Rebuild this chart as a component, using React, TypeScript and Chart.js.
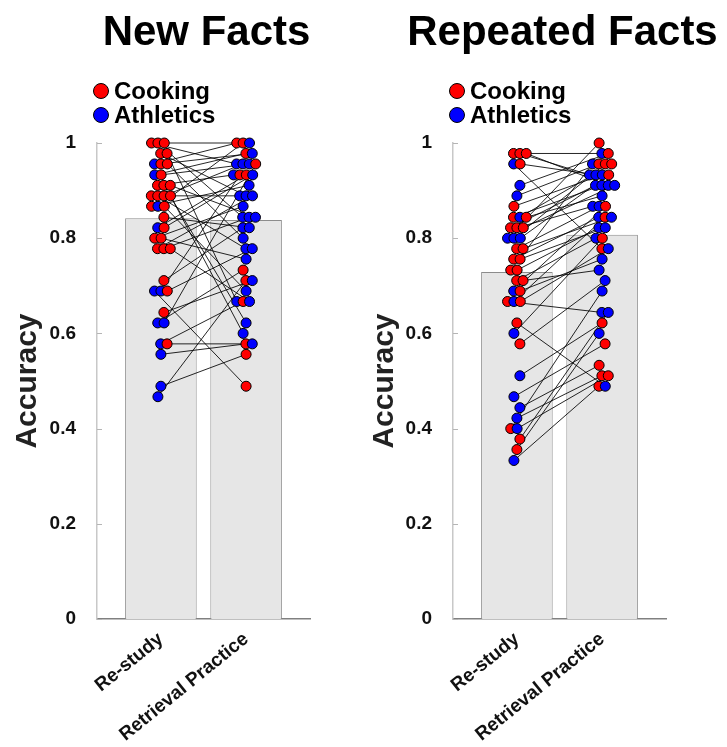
import React, { useEffect, useRef } from "react";
import { Chart, registerables } from "chart.js";

Chart.register(...registerables);

const FONT = "'Liberation Sans', Arial, Helvetica, sans-serif";

const conditionLabels = ["Re-study", "Retrieval Practice"];
const topicLabels = ["Cooking", "Athletics"];
const panelTitles = ["New Facts", "Repeated Facts"];
const yTickValues = [0, 0.2, 0.4, 0.6, 0.8, 1];
const yTickLabels = ["0", "0.2", "0.4", "0.6", "0.8", "1"];

// ---- New Facts (one entry per participant) ----
const newFactsBarMeans = [0.842, 0.838];
const newFactsRestudy = [
  1.0, 0.956, 0.889, 0.978, 0.689, 0.911, 0.8, 0.622, 1.0, 0.867,
  0.933, 0.778, 0.956, 0.489, 0.889, 0.711, 0.867, 0.911, 0.978, 0.578,
  0.844, 0.889, 0.689, 1.0, 0.778, 0.822, 0.933, 0.8, 0.622, 0.889,
  0.956, 0.556, 0.867, 0.911, 0.467, 0.822, 0.778, 0.689, 0.644, 0.578,
];
const newFactsRetrieval = [
  0.956, 1.0, 0.889, 0.889, 0.489, 0.933, 0.867, 0.733, 0.844, 0.911,
  0.978, 0.889, 0.978, 0.556, 0.778, 0.822, 1.0, 0.622, 0.667, 0.667,
  0.822, 0.956, 0.933, 1.0, 0.844, 0.933, 0.956, 0.756, 0.956, 0.6,
  0.8, 0.578, 0.689, 0.844, 0.711, 0.933, 0.667, 0.778, 0.711, 0.578,
];
// topic studied in the Re-study condition (C = Cooking, A = Athletics); the other topic was practised
const newFactsRestudyTopic = [
  "C", "A", "C", "C", "A", "C", "C", "A", "C", "C",
  "A", "C", "C", "A", "C", "C", "A", "C", "C", "A",
  "C", "C", "A", "C", "C", "A", "C", "C", "A", "C",
  "C", "A", "C", "C", "A", "C", "C", "C", "C", "C",
];

// ---- Repeated Facts ----
const repeatedFactsBarMeans = [0.729, 0.807];
const repeatedFactsRestudy = [
  0.978, 0.956, 0.822, 0.8, 0.733, 0.333, 0.978, 0.911, 0.756, 0.4,
  0.467, 0.844, 0.667, 0.889, 0.711, 0.6, 0.978, 0.378, 0.422, 0.822,
  0.8, 0.778, 0.622, 0.689, 0.956, 0.444, 0.733, 0.844, 0.356, 0.667,
  0.867, 0.511, 0.711, 0.8, 0.844, 0.4, 0.689, 0.822, 0.778, 0.756,
  0.667, 0.578,
];
const repeatedFactsRetrieval = [
  0.978, 0.778, 0.911, 1.0, 0.956, 0.489, 0.933, 0.978, 0.844, 0.689,
  0.578, 0.911, 0.644, 0.956, 0.8, 0.8, 0.911, 0.644, 0.511, 0.867,
  0.956, 0.867, 0.489, 0.867, 0.933, 0.533, 0.822, 0.956, 0.6, 0.844,
  0.933, 0.622, 0.733, 0.933, 0.889, 0.511, 0.756, 0.911, 0.844, 0.822,
  0.778, 0.711,
];
const repeatedFactsRestudyTopic = [
  "C", "A", "C", "A", "C", "A", "C", "A", "C", "C",
  "A", "C", "C", "A", "C", "A", "C", "C", "A", "C",
  "A", "C", "C", "A", "C", "A", "C", "A", "C", "A",
  "C", "A", "C", "A", "C", "A", "C", "C", "C", "C",
  "C", "C",
];

const RED = "#ff0000";
const BLUE = "#0000ff";

type PanelData = {
  title: string;
  means: number[];
  restudy: number[];
  retrieval: number[];
  restudyTopic: string[];
};

const panels: PanelData[] = [
  {
    title: panelTitles[0],
    means: newFactsBarMeans,
    restudy: newFactsRestudy,
    retrieval: newFactsRetrieval,
    restudyTopic: newFactsRestudyTopic,
  },
  {
    title: panelTitles[1],
    means: repeatedFactsBarMeans,
    restudy: repeatedFactsRestudy,
    retrieval: repeatedFactsRetrieval,
    restudyTopic: repeatedFactsRestudyTopic,
  },
];

// horizontal spread of dots sharing the same score (layout only)
function columnOffsets(values: number[]): number[] {
  const groups = new Map<number, number[]>();
  values.forEach((v, i) => {
    const key = Math.round(v * 45);
    if (!groups.has(key)) groups.set(key, []);
    groups.get(key)!.push(i);
  });
  const out = new Array(values.length).fill(0);
  groups.forEach((idxs, key) => {
    const n = idxs.length;
    const shift = ((key % 3) - 1) * 0.035;
    idxs.forEach((idx, k) => {
      out[idx] = shift + (k - (n - 1) / 2) * 0.075;
    });
  });
  return out;
}

const decorPlugin = {
  id: "decor",
  beforeDatasetsDraw(chart: any) {
    const { ctx, chartArea, scales } = chart;
    ctx.save();
    ctx.strokeStyle = "#b5b5b5";
    ctx.lineWidth = 1;
    yTickValues.forEach((v) => {
      const y = Math.round(scales.y.getPixelForValue(v)) + 0.5;
      ctx.beginPath();
      ctx.moveTo(chartArea.left, y);
      ctx.lineTo(chartArea.left + 5, y);
      ctx.stroke();
    });
    ctx.restore();
  },
  afterDraw(chart: any, _args: any, opts: any) {
    const { ctx, chartArea } = chart;
    ctx.save();
    ctx.fillStyle = "#000";
    ctx.textAlign = "center";
    ctx.textBaseline = "alphabetic";
    ctx.font = `bold 42px ${FONT}`;
    ctx.fillText(opts.title, (chartArea.left + chartArea.right) / 2 + 3, 45);

    const lx = chartArea.left + 4;
    const entries = [
      { label: topicLabels[0], color: RED, cy: 91, base: 99 },
      { label: topicLabels[1], color: BLUE, cy: 115, base: 123 },
    ];
    ctx.font = `bold 24px ${FONT}`;
    ctx.textAlign = "left";
    entries.forEach((e) => {
      ctx.beginPath();
      ctx.arc(lx, e.cy, 7.5, 0, Math.PI * 2);
      ctx.fillStyle = e.color;
      ctx.fill();
      ctx.lineWidth = 1;
      ctx.strokeStyle = "#000";
      ctx.stroke();
      ctx.fillStyle = "#000";
      ctx.fillText(e.label, lx + 13, e.base);
    });
    ctx.restore();
  },
};

function Panel({
  data,
  left,
  width,
  axisWidth,
  rightPad,
  yTitlePad,
}: {
  data: PanelData;
  left: number;
  width: number;
  axisWidth: number;
  rightPad: number;
  yTitlePad: number;
}) {
  const ref = useRef<HTMLCanvasElement>(null);

  useEffect(() => {
    if (!ref.current) return;
    const rsOff = columnOffsets(data.restudy);
    const rpOff = columnOffsets(data.retrieval);

    const linePts: any[] = [];
    const dotPts: any[] = [];
    const dotColors: string[] = [];
    data.restudy.forEach((v, i) => {
      const x1 = 1 + rsOff[i];
      const x2 = 2 + rpOff[i];
      const r = data.retrieval[i];
      linePts.push({ x: x1, y: v }, { x: x2, y: r }, { x: x2, y: null });
      const rsColor = data.restudyTopic[i] === "C" ? RED : BLUE;
      const rpColor = data.restudyTopic[i] === "C" ? BLUE : RED;
      dotPts.push({ x: x1, y: v }, { x: x2, y: r });
      dotColors.push(rsColor, rpColor);
    });

    const chart = new Chart(ref.current, {
      type: "bar",
      data: {
        datasets: [
          {
            type: "scatter",
            data: dotPts,
            backgroundColor: dotColors,
            borderColor: "#000",
            borderWidth: 1,
            pointRadius: 5,
            clip: false,
            order: 0,
          } as any,
          {
            type: "line",
            data: linePts,
            borderColor: "rgba(0,0,0,0.85)",
            borderWidth: 1,
            pointRadius: 0,
            spanGaps: false,
            fill: false,
            clip: false,
            order: 1,
          } as any,
          {
            type: "bar",
            data: data.means.map((m, i) => ({ x: i + 1, y: m })),
            backgroundColor: "#e6e6e6",
            borderColor: "#8c8c8c",
            borderWidth: 1,
            barPercentage: 0.84,
            categoryPercentage: 1,
            order: 2,
          } as any,
        ],
      },
      options: {
        responsive: false,
        animation: false,
        events: [],
        layout: { padding: { top: 143, right: rightPad, bottom: 0, left: 0 } },
        plugins: {
          legend: { display: false },
          tooltip: { enabled: false },
          title: { display: false },
          decor: { title: data.title },
        } as any,
        scales: {
          x: {
            type: "linear",
            min: 0.25,
            max: 2.75,
            offset: false,
            grid: { display: false },
            border: { display: true, color: "#808080", width: 1.5 },
            afterBuildTicks: (s: any) => {
              s.ticks = [{ value: 1 }, { value: 2 }];
            },
            afterFit: (s: any) => {
              s.height = 747 - 619;
            },
            ticks: {
              autoSkip: false,
              minRotation: 39,
              maxRotation: 39,
              padding: 1,
              color: "#111",
              font: { family: FONT, size: 19, weight: "bold" },
              callback: (v: any) =>
                v === 1 ? conditionLabels[0] : v === 2 ? conditionLabels[1] : "",
            },
          },
          y: {
            type: "linear",
            min: 0,
            max: 1,
            grid: { display: false },
            border: { display: true, color: "#c8c8c8", width: 1.5 },
            afterFit: (s: any) => {
              s.width = axisWidth;
            },
            afterBuildTicks: (s: any) => {
              s.ticks = yTickValues.map((v) => ({ value: v }));
            },
            ticks: {
              padding: 13,
              color: "#111",
              font: { family: FONT, size: 19, weight: "bold" },
              callback: (v: any) => {
                const i = yTickValues.indexOf(v);
                return i >= 0 ? yTickLabels[i] : "";
              },
            },
            title: {
              display: true,
              text: "Accuracy",
              color: "#222",
              font: { family: FONT, size: 30, weight: "bold" },
              padding: { top: yTitlePad, bottom: 0 },
            },
          },
        } as any,
      },
      plugins: [decorPlugin as any],
    });
    return () => chart.destroy();
  }, []);

  return (
    <canvas
      ref={ref}
      width={width}
      height={747}
      style={{ position: "absolute", left, top: 0, width, height: 747 }}
    />
  );
}

export default function App() {
  return (
    <div
      style={{
        position: "absolute",
        left: 0,
        top: 0,
        width: 727,
        height: 747,
        background: "#fff",
        overflow: "hidden",
      }}
    >
      <Panel data={panels[0]} left={0} width={360} axisWidth={97} rightPad={50} yTitlePad={10} />
      <Panel data={panels[1]} left={360} width={367} axisWidth={93} rightPad={61} yTitlePad={7} />
    </div>
  );
}
